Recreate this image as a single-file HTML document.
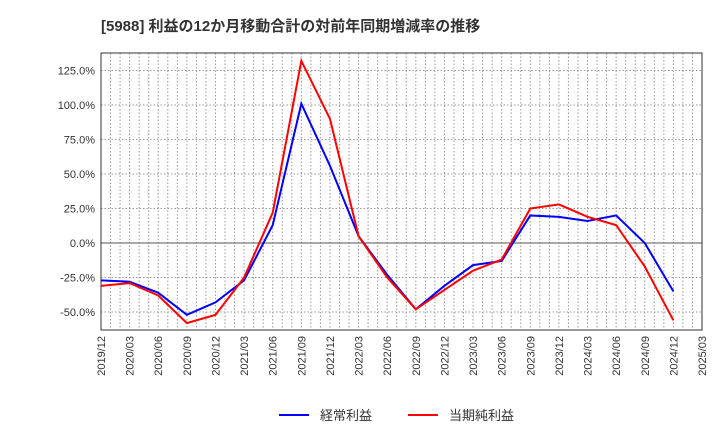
<!DOCTYPE html>
<html><head><meta charset="utf-8"><style>
body{margin:0;background:#fff;font-family:"Liberation Sans","Noto Sans CJK JP",sans-serif;}
</style></head><body>
<svg width="720" height="440" xmlns="http://www.w3.org/2000/svg">
<text x="101" y="31" font-size="15" font-weight="bold" fill="#333" font-family="Liberation Sans,Noto Sans CJK JP,sans-serif">[5988]  利益の12か月移動合計の対前年同期増減率の推移</text>
<g id="grid"></g><g id="axes"></g><g id="lines"></g>
<g font-size="13" font-family="Liberation Sans,Noto Sans CJK JP,sans-serif">
<line x1="279" y1="415" x2="309" y2="415" stroke="#0000ff" stroke-width="2"/><text x="320" y="420" fill="#333">経常利益</text>
<line x1="408" y1="415" x2="438" y2="415" stroke="#ff0000" stroke-width="2"/><text x="449" y="420" fill="#333">当期純利益</text>
</g>
</svg>
<script>
const categories=["2019/12","2020/03","2020/06","2020/09","2020/12","2021/03","2021/06","2021/09","2021/12","2022/03","2022/06","2022/09","2022/12","2023/03","2023/06","2023/09","2023/12","2024/03","2024/06","2024/09","2024/12","2025/03"];
const ordinaryProfit=[-27,-28,-36,-52,-43,-27,13,101,56,5,-23,-48,-31,-16,-13,20,19,16,20,0,-35];
const netProfit=[-31,-29,-38,-58,-52,-25,22,132,90,5,-25,-48,-34,-20,-12,25,28,19,13,-17,-56];
const yTicks=[-50,-25,0,25,50,75,100,125];
const NS="http://www.w3.org/2000/svg";
const L=101,R=702,T=53,B=330,ymin=-63,ymax=137.7;
const nQ=categories.length-1;
const xs=i=>L+(R-L)*i/nQ;
const ys=v=>B-(v-ymin)/(ymax-ymin)*(B-T);
function mk(tag,attrs,parent){const e=document.createElementNS(NS,tag);for(const k in attrs)e.setAttribute(k,attrs[k]);parent.appendChild(e);return e;}
const grid=document.getElementById('grid'),axes=document.getElementById('axes'),lines=document.getElementById('lines');
for(let m=1;m<nQ*3;m++){const x=L+(R-L)*m/(nQ*3);
const g=mk('line',{x1:x,x2:x,y1:T,y2:B,stroke:'#999','stroke-dasharray':'1.5,2','stroke-width':1},grid);

}
yTicks.forEach(v=>{const y=ys(v);
const g=mk('line',{x1:L,x2:R,y1:y,y2:y,stroke:v===0?'#555':'#999','stroke-dasharray':v===0?'':'1.5,2','stroke-width':1},grid);


const t=mk('text',{x:L-6,y:y+4,'text-anchor':'end','font-size':11,fill:'#333'},axes);
t.textContent=v.toFixed(1)+'%';

});
categories.forEach((c,i)=>{const x=xs(i);
const t=mk('text',{x:x+4,y:B+6,'text-anchor':'end','font-size':11,fill:'#333',transform:`rotate(-90 ${x+4} ${B+6})`},axes);
t.textContent=c;

});
const fr=mk('rect',{x:L,y:T,width:R-L,height:B-T,fill:'none',stroke:'#333','stroke-width':1},axes);


function series(vals,color,name){const p=mk('polyline',{points:vals.map((v,i)=>xs(i)+','+ys(v)).join(' '),fill:'none',stroke:color,'stroke-width':2},lines);

}
series(ordinaryProfit,'#0000ff','ordinary-profit-line');
series(netProfit,'#ff0000','net-profit-line');
</script>
</body></html>
